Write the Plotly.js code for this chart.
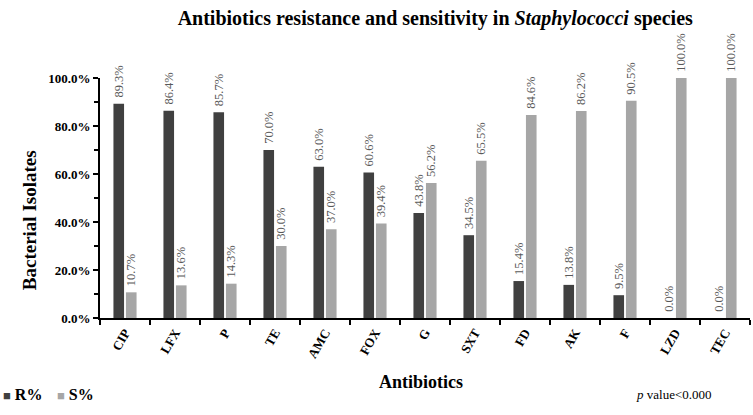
<!DOCTYPE html>
<html>
<head>
<meta charset="utf-8">
<script src="https://cdn.plot.ly/plotly-3.0.1.min.js"></script>
<style>
  html, body { margin: 0; padding: 0; background: #fff; }
  #chart { width: 753px; height: 415px; }
</style>
</head>
<body>
<div id="chart"></div>
<script>
"use strict";

const antibiotics = ["CIP", "LFX", "P", "TE", "AMC", "FOX", "G", "SXT", "FD", "AK", "F", "LZD", "TEC"];
const resistant = [89.3, 86.4, 85.7, 70.0, 63.0, 60.6, 43.8, 34.5, 15.4, 13.8, 9.5, 0.0, 0.0];
const sensitive = [10.7, 13.6, 14.3, 30.0, 37.0, 39.4, 56.2, 65.5, 84.6, 86.2, 90.5, 100.0, 100.0];
const yTicks = [0, 20, 40, 60, 80, 100];
const seriesNames = ["R%", "S%"];
const seriesColors = ["#404040", "#a6a6a6"];

const serif = "Liberation Serif, Times New Roman, serif";
const labelFont = { family: serif, size: 12.5, color: "#595959" };

function barTrace(i, values) {
  return {
    type: "bar",
    name: seriesNames[i],
    x: antibiotics,
    y: values,
    marker: { color: seriesColors[i] },
    // leading nbsp gives a little room above the bar top
    text: values.map(v => "\u00a0" + v.toFixed(1) + "%"),
    textposition: "outside",
    textangle: -90,
    constraintext: "none",
    textfont: labelFont,
    cliponaxis: false,
    hoverinfo: "x+y",
  };
}

const traces = [barTrace(0, resistant), barTrace(1, sensitive)];

// legend drawn as small square + label, like the original
const legendNotes = seriesNames.map((name, i) => ({
  text: `<span style="color:${seriesColors[i]};font-size:13px">■</span> ${name}`,
  xref: "paper", yref: "paper",
  x: i === 0 ? -0.152 : -0.07, y: -0.32,
  xanchor: "left", yanchor: "middle",
  showarrow: false,
  font: { family: serif, size: 16, color: "#000", weight: "bold" },
}));

const layout = {
  width: 753,
  height: 415,
  margin: { l: 100, r: 3, t: 78, b: 97 },
  paper_bgcolor: "#fff",
  plot_bgcolor: "#fff",
  barmode: "group",
  bargap: 0.5,
  bargroupgap: 0.15,
  font: { family: serif, color: "#000" },
  title: {
    text: "Antibiotics resistance and sensitivity in <i>Staphylococci</i> species",
    font: { family: serif, size: 20, color: "#000", weight: "bold" },
    x: 0.578, xanchor: "center", y: 0.957, yanchor: "middle",
  },
  xaxis: {
    type: "category",
    showline: true, linecolor: "#000", linewidth: 2,
    ticks: "outside", tickson: "boundaries", ticklen: 5, tickwidth: 2, tickcolor: "#000",
    tickangle: -60,
    tickfont: { family: serif, size: 13, color: "#000", weight: "bold" },
    showgrid: false, zeroline: false,
  },
  yaxis: {
    range: [0, 100],
    tickvals: yTicks,
    ticktext: yTicks.map(v => v.toFixed(1) + "%"),
    showline: true, linecolor: "#000", linewidth: 2,
    ticks: "outside", ticklen: 5, tickwidth: 2, tickcolor: "#000",
    minor: { dtick: 10, ticks: "outside", ticklen: 4, tickwidth: 2, tickcolor: "#000" },
    tickfont: { family: serif, size: 13, color: "#000", weight: "bold" },
    showgrid: false, zeroline: false,
  },
  showlegend: false,
  annotations: [
    {
      text: "Bacterial Isolates",
      xref: "paper", yref: "paper",
      x: -0.109, y: 0.408, xanchor: "center", yanchor: "middle",
      textangle: -90,
      showarrow: false,
      font: { family: serif, size: 19, color: "#000", weight: "bold" },
    },
    {
      text: "Antibiotics",
      xref: "paper", yref: "paper",
      x: 0.494, y: -0.267, xanchor: "center", yanchor: "middle",
      showarrow: false,
      font: { family: serif, size: 18, color: "#000", weight: "bold" },
    },
    {
      text: "<i>p</i> value<0.000",
      xref: "paper", yref: "paper",
      x: 0.943, y: -0.320, xanchor: "right", yanchor: "middle",
      showarrow: false,
      font: { family: serif, size: 13, color: "#000" },
    },
    ...legendNotes,
  ],
};

Plotly.newPlot("chart", traces, layout, { displayModeBar: false, staticPlot: true });
</script>
</body>
</html>
